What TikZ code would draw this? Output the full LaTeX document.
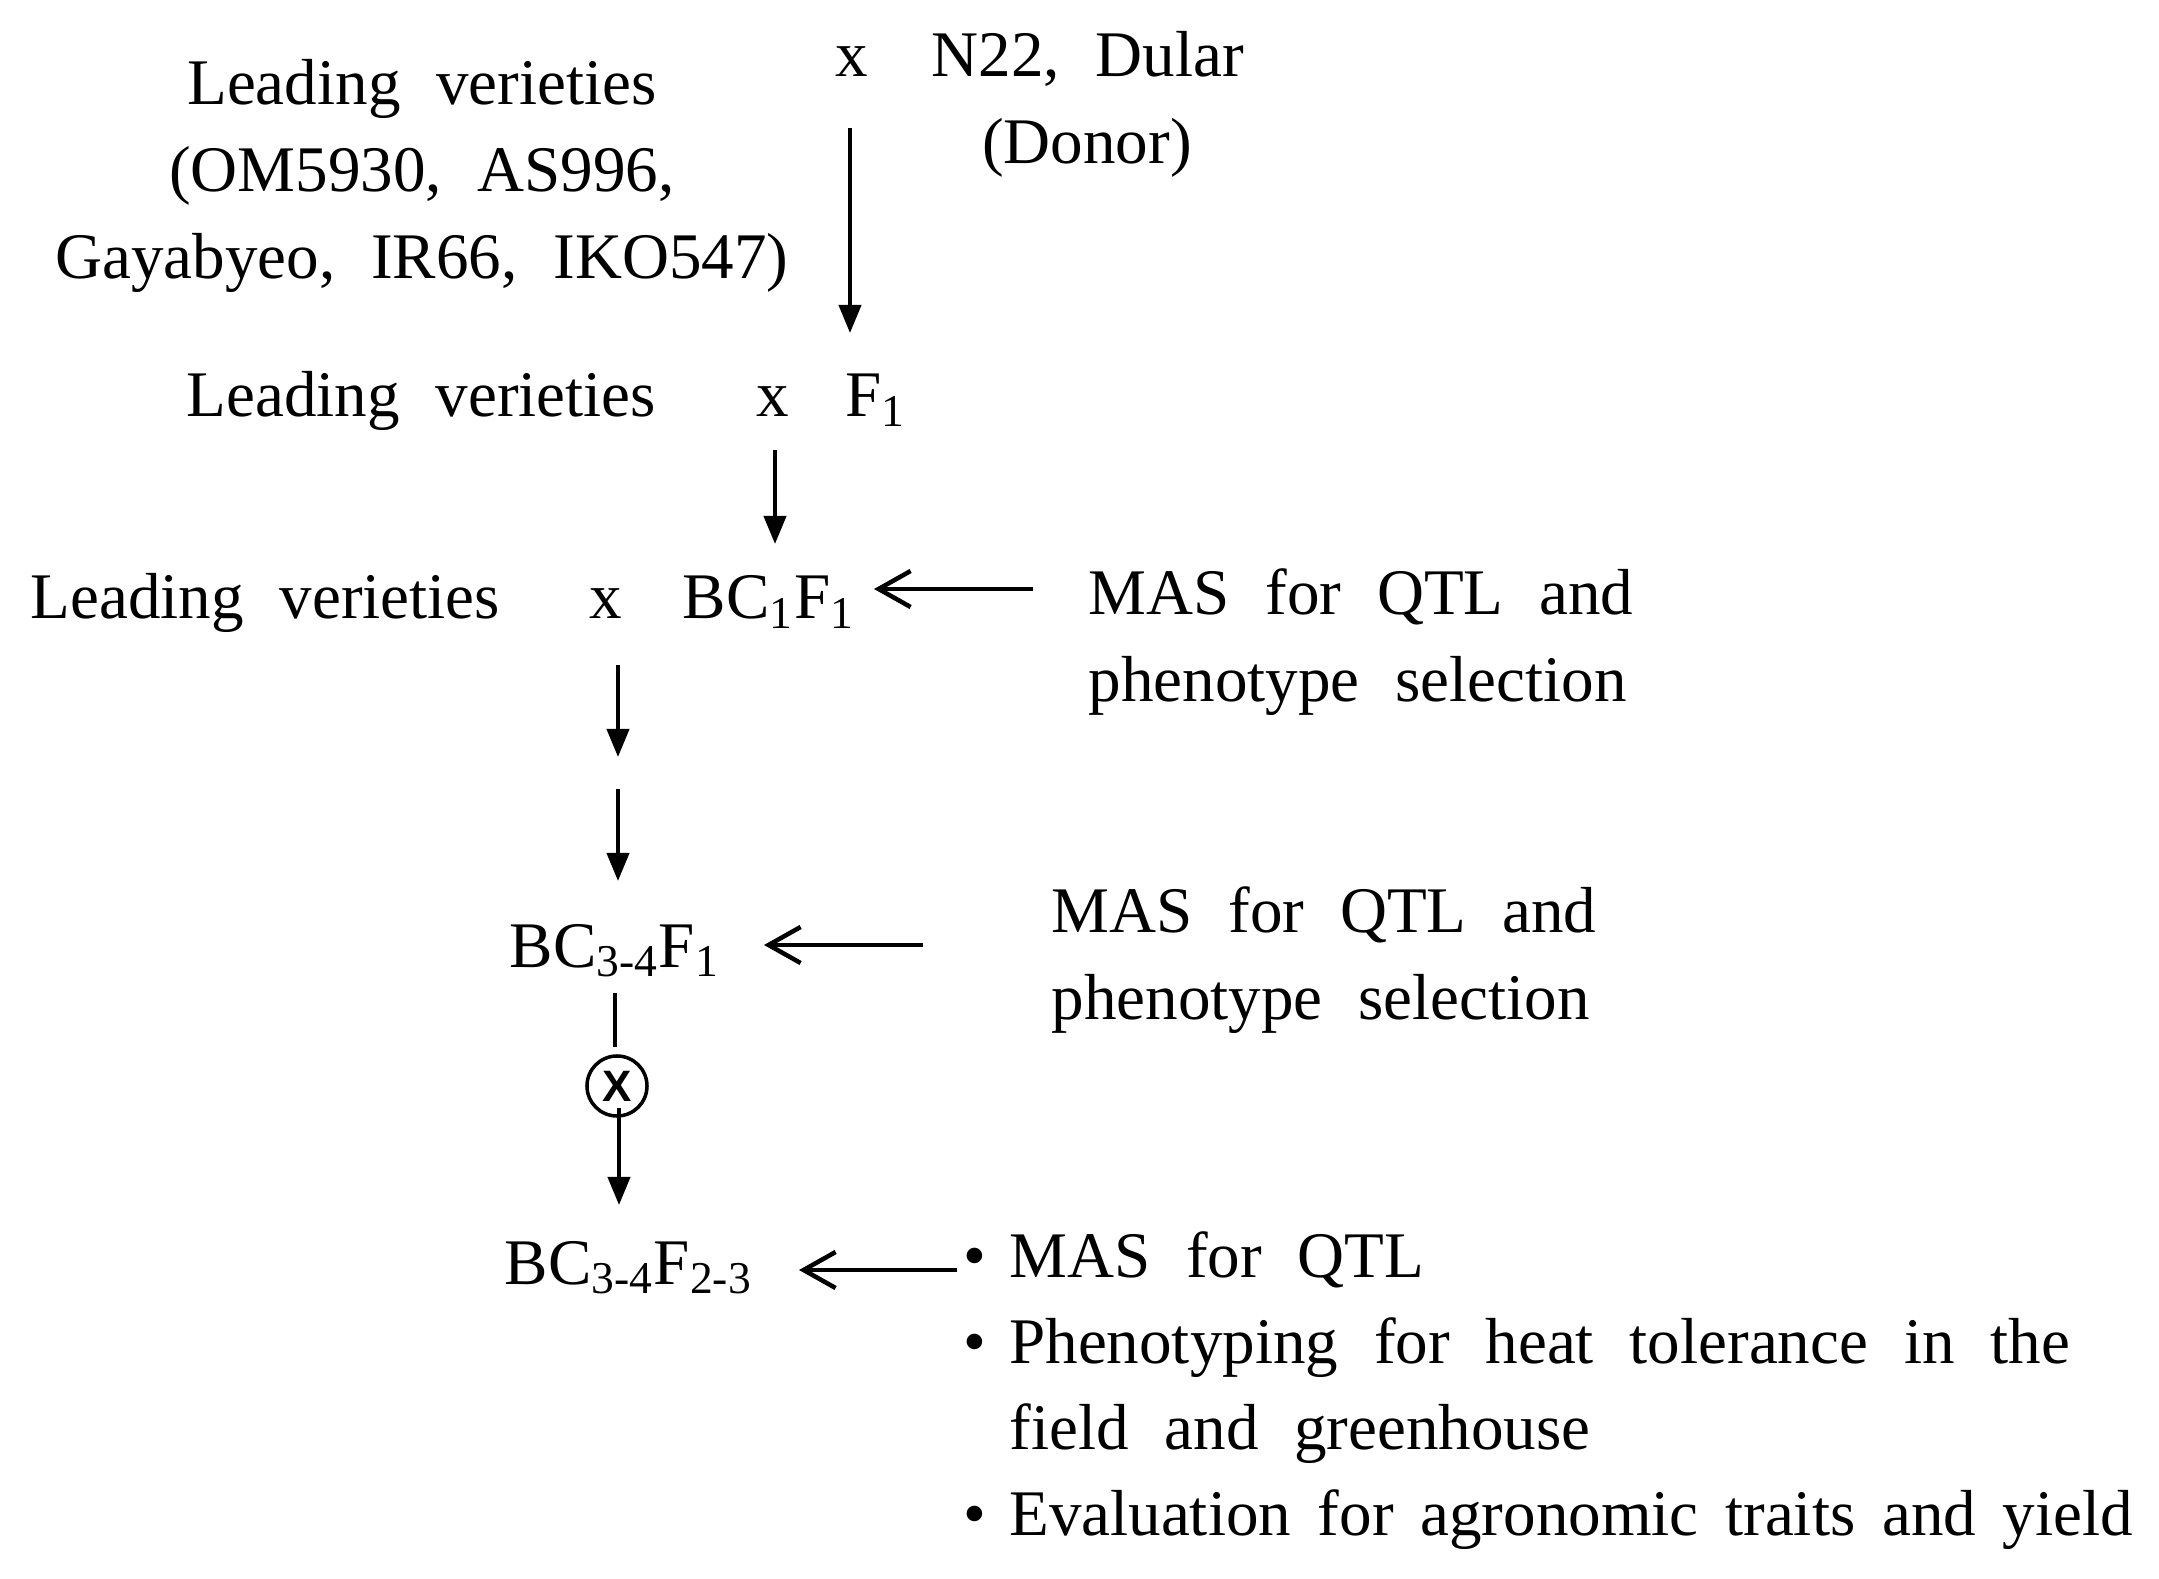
\documentclass[tikz,border=0pt]{standalone}
\usepackage{fontspec}
\setmainfont[WordSpace=2.2]{Liberation Serif}
\setsansfont{Liberation Sans}
\usetikzlibrary{arrows.meta}
\begin{document}
\begin{tikzpicture}[x=0.01cm,y=-0.01cm,
  every node/.style={inner sep=0pt,font=\fontsize{18.5}{24}\selectfont},
  lt/.style={anchor=base west},
  ct/.style={anchor=base},
  varr/.style={-{Triangle[length=2.8mm,width=2.2mm]},line width=0.4mm},
  larr/.style={-{Straight Barb[length=3.2mm,width=3.6mm]},line width=0.45mm},
  plain/.style={line width=0.4mm}]
\useasboundingbox (0,0) rectangle (2159,1579);
% row 1
\node[ct] (lv1a) at (422,105) {Leading verieties};
\node[ct] (lv1b) at (422,192) {(OM5930, AS996,};
\node[ct] (lv1c) at (422,279) {Gayabyeo, IR66, IKO547)};
\node[ct] (x1) at (852,77) {x};
\node[lt] (donor1) at (931,77) {N22, Dular};
\node[ct] (donor2) at (1087,164) {(Donor)};
% row 2
\node[lt] (lv2) at (186,417) {Leading verieties};
\node[ct] (x2) at (773,417) {x};
\node[lt] (f1) at (845,417) {F\textsubscript{1}};
% row 3
\node[lt] (lv3) at (30,619) {Leading verieties};
\node[ct] (x3) at (606,619) {x};
\node[lt] (bc1f1) at (682,619) {BC\textsubscript{1}F\textsubscript{1}};
\node[lt] (mas1a) at (1088,615) {MAS for QTL and};
\node[lt] (mas1b) at (1088,702) {phenotype selection};
% row 4
\node[lt] (bc34f1) at (509,967) {BC\textsubscript{3-4}F\textsubscript{1}};
\node[lt] (mas2a) at (1051,932) {MAS for QTL and};
\node[lt] (mas2b) at (1051,1019) {phenotype selection};
% selfing
\node[draw,circle,line width=0.35mm,minimum size=6mm,font=\sffamily\bfseries\fontsize{12.5}{13}\selectfont] (self) at (617,1086) {X};
% row 5
\node[lt] (bc34f23) at (504,1284) {BC\textsubscript{3-4}F\textsubscript{2-3}};
\node[lt] (b1) at (963,1277) {\textbullet\kern6.5pt MAS for QTL};
\node[lt] (b2) at (963,1363) {\textbullet\kern6.5pt Phenotyping for heat tolerance in the};
\node[lt] (b2b) at (1009,1449) {field and greenhouse};
\node[lt] (b3) at (963,1535) {\spaceskip=0.41em\textbullet\kern6.5pt Evaluation for agronomic traits and yield};
% connector end points
\coordinate (a1s) at (850,128);
\coordinate (a1e) at (850,333);
\coordinate (a2s) at (775,450);
\coordinate (a2e) at (775,544);
\coordinate (a3s) at (618,665);
\coordinate (a3e) at (618,757);
\coordinate (a4s) at (618,789);
\coordinate (a4e) at (618,881);
\coordinate (l1s) at (1033,589);
\coordinate (l1e) at (874,589);
\coordinate (l2s) at (923,945);
\coordinate (l2e) at (764,945);
\coordinate (ls) at (615,993);
\coordinate (le) at (615,1047);
\coordinate (a5s) at (619,1108);
\coordinate (a5e) at (619,1205);
\coordinate (l3s) at (957,1270);
\coordinate (l3e) at (799,1270);
% connectors
\draw[varr] (a1s) -- (a1e);
\draw[varr] (a2s) -- (a2e);
\draw[varr] (a3s) -- (a3e);
\draw[varr] (a4s) -- (a4e);
\draw[larr] (l1s) -- (l1e);
\draw[larr] (l2s) -- (l2e);
\draw[plain] (ls) -- (le);
\draw[varr] (a5s) -- (a5e);
\draw[larr] (l3s) -- (l3e);
\end{tikzpicture}
\end{document}
